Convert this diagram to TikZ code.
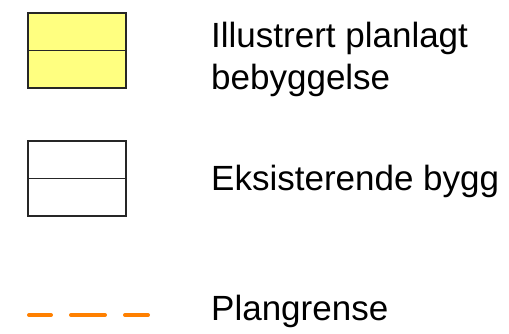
\documentclass[tikz,border=0pt]{standalone}
\usepackage{fontspec}
\setmainfont{Liberation Sans}
\usetikzlibrary{positioning}

\begin{document}
\begin{tikzpicture}[x=1pt, y=-1pt]
\tikzstyle{legendbox} = [draw=black!85, line width=1.4pt, minimum width=98pt, minimum height=75pt, inner sep=0pt, outer sep=0pt]
\tikzstyle{legendtext} = [anchor=base west, inner sep=0pt, font=\fontsize{35}{42}\selectfont, align=left]
\tikzstyle{plangrense} = [draw={rgb,255:red,255;green,128;blue,0}, line width=4pt, line cap=round]

\useasboundingbox (0,0) rectangle (509,334);

\node[legendbox, fill={rgb,255:red,255;green,255;blue,128}] (planlagt) at (77,50.5) {};
\draw[black!85, line width=1.5pt] (planlagt.west) -- (planlagt.east);
\node[legendtext] (tplanlagt) at (211,90) {Illustrert planlagt\\bebyggelse};

\node[legendbox, fill=white] (eksist) at (77,178.5) {};
\draw[black!85, line width=1.5pt] (eksist.west) -- (eksist.east);
\node[legendtext] (teksist) at (211,191) {Eksisterende bygg};

\coordinate (d1a) at (29,315); \coordinate (d1b) at (51,315);
\coordinate (d2a) at (71,315); \coordinate (d2b) at (105,315);
\coordinate (d3a) at (125,315); \coordinate (d3b) at (148,315);
\draw[plangrense] (d1a) -- (d1b) (d2a) -- (d2b) (d3a) -- (d3b);
\node[legendtext] (tplan) at (211,320) {Plangrense};

\end{tikzpicture}
\end{document}
